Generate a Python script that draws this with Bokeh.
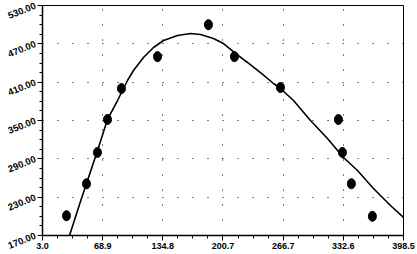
from bokeh.plotting import figure
from bokeh.models import FixedTicker, Range1d
from bokeh.embed import file_html
from bokeh.resources import INLINE

# observed points
obs_x = [29.3, 51.2, 63.2, 74.2, 89.5, 129.0, 184.8, 213.3, 263.7, 327.2, 331.6, 341.4, 364.4]
obs_y = [201.0, 251.0, 300.0, 351.5, 400.0, 450.0, 500.0, 450.0, 401.6, 351.5, 300.0, 251.0, 200.0]

# fitted curve
fit_x = [32.6, 44.6, 51.2, 63.3, 74.2, 85.2, 96.1, 102.7, 113.6, 124.6, 135.6, 150.9, 165.1,
         176.1, 190.3, 201.3, 214.4, 227.6, 241.8, 256.1, 263.7, 278.0, 296.6, 315.2,
         332.8, 348.1, 365.6, 384.2, 398.5]
fit_y = [170.0, 223.2, 251.4, 303.0, 351.6, 381.3, 412.6, 428.3, 448.6, 464.3, 475.2, 483.0, 486.2,
         484.6, 478.3, 470.5, 454.9, 440.8, 425.1, 407.9, 400.1, 381.3, 350.0, 321.8,
         292.1, 271.7, 243.6, 217.0, 198.2]

x_ticks = [3.0, 68.9, 134.8, 200.7, 266.7, 332.6, 398.5]
x_tick_labels = ["3.0", "68.9", "134.8", "200.7", "266.7", "332.6", "398.5"]
y_ticks = [170, 230, 290, 350, 410, 470, 530]
y_tick_labels = ["170.00", "230.00", "290.00", "350.00", "410.00", "470.00", "530.00"]

x_minor = []
for a, b in zip(x_ticks[:-1], x_ticks[1:]):
    for k in range(1, 4):
        x_minor.append(a + (b - a) * k / 4)
y_minor = []
for a, b in zip(y_ticks[:-1], y_ticks[1:]):
    for k in range(1, 4):
        y_minor.append(a + (b - a) * k / 4)

p = figure(width=417, height=254, output_backend="svg", toolbar_location=None,
           x_range=Range1d(3.0, 398.5), y_range=Range1d(170, 530),
           min_border_left=42, min_border_right=14, min_border_top=5, min_border_bottom=19)

p.background_fill_color = "white"
p.border_fill_color = "white"
p.outline_line_color = "black"
p.outline_line_width = 1

p.line(fit_x, fit_y, line_color="black", line_width=1.6)
p.ellipse(obs_x, obs_y, width=8, height=10, width_units="screen", height_units="screen",
          fill_color="black", line_color="black")

p.xaxis.ticker = FixedTicker(ticks=x_ticks, minor_ticks=x_minor)
p.yaxis.ticker = FixedTicker(ticks=y_ticks, minor_ticks=y_minor)
p.xaxis.major_label_overrides = {t: l for t, l in zip(x_ticks, x_tick_labels)}
p.yaxis.major_label_overrides = {t: l for t, l in zip(y_ticks, y_tick_labels)}

for ax in (p.xaxis, p.yaxis):
    ax.axis_line_color = "black"
    ax.axis_line_width = 1.5
    ax.major_tick_line_color = "black"
    ax.minor_tick_line_color = "black"
    ax.major_tick_in = 0
    ax.major_tick_out = 5
    ax.minor_tick_in = 0
    ax.minor_tick_out = 3
    ax.major_label_text_font = "Liberation Sans"
    ax.major_label_text_font_style = "bold"
    ax.major_label_text_color = "black"
    ax.major_label_standoff = 2

p.xaxis.major_label_text_font_size = "9px"
p.yaxis.major_label_text_font_size = "9.5px"
p.yaxis.major_label_orientation = 0.38

p.grid.grid_line_color = "black"
p.grid.grid_line_dash = "1 14"
p.grid.grid_line_width = 1
p.xgrid.ticker = FixedTicker(ticks=x_ticks[1:-1])
p.ygrid.ticker = FixedTicker(ticks=y_ticks[1:-1])

open("out.html", "w").write(file_html(p, INLINE))
